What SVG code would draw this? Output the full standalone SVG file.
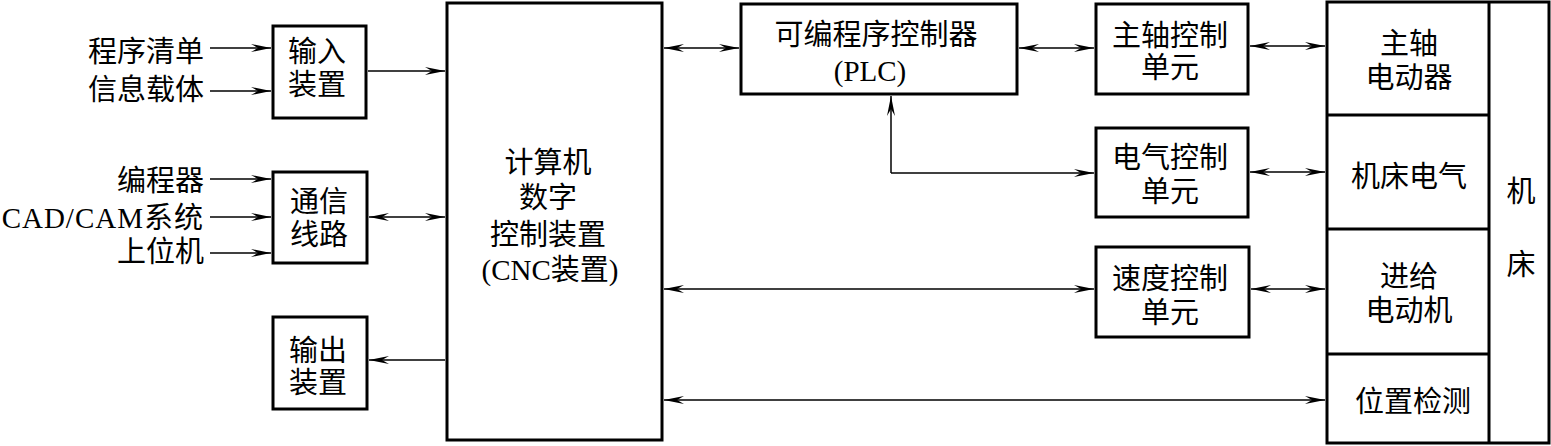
<svg xmlns="http://www.w3.org/2000/svg" width="1551" height="446" viewBox="0 0 1551 446">
<style>
.box{fill:#fff;stroke:#000;stroke-width:3}
.ln{fill:none;stroke:#000;stroke-width:1.5}
.t{font-family:"Liberation Serif","Noto Sans CJK SC",serif;font-size:29px;fill:#000;text-anchor:middle}
.r{text-anchor:end}
</style>
<defs>
<marker id="a" markerUnits="userSpaceOnUse" markerWidth="30" markerHeight="30" refX="0" refY="0" orient="auto-start-reverse" overflow="visible">
<path d="M0,0 L-20,-4 L-13,0 L-20,4 Z" fill="#000"/>
</marker>
</defs>
<rect width="1551" height="446" fill="#fff"/>
<g id="labels">
<text class="t r" x="204" y="62">程序清单</text>
<text class="t r" x="204" y="100">信息载体</text>
<text class="t r" x="204" y="191">编程器</text>
<text class="t r" x="204" y="228" letter-spacing="1">CAD/CAM系统</text>
<text class="t r" x="204" y="262">上位机</text>
</g>
<g id="input">
<rect class="box" x="273" y="26" width="93" height="92"/>
<text class="t" x="317" y="62">输入</text>
<text class="t" x="317" y="95">装置</text>
</g>
<g id="comm">
<rect class="box" x="273" y="172" width="94" height="91"/>
<text class="t" x="319" y="212">通信</text>
<text class="t" x="319" y="245">线路</text>
</g>
<g id="output">
<rect class="box" x="273" y="317" width="94" height="92"/>
<text class="t" x="318" y="361">输出</text>
<text class="t" x="318" y="393">装置</text>
</g>
<g id="cnc">
<rect class="box" x="447" y="3" width="215" height="437"/>
<text class="t" x="548" y="173">计算机</text>
<text class="t" x="548" y="208">数字</text>
<text class="t" x="548" y="245">控制装置</text>
<text class="t" x="550" y="280">(CNC装置)</text>
</g>
<g id="plc">
<rect class="box" x="741" y="4" width="276" height="90"/>
<text class="t" x="876" y="45">可编程序控制器</text>
<text class="t" x="870" y="81">(PLC)</text>
</g>
<g id="spindle-ctrl">
<rect class="box" x="1096" y="4" width="152" height="90"/>
<text class="t" x="1170" y="46">主轴控制</text>
<text class="t" x="1170" y="78">单元</text>
</g>
<g id="elec-ctrl">
<rect class="box" x="1096" y="128" width="152" height="89"/>
<text class="t" x="1170" y="168">电气控制</text>
<text class="t" x="1170" y="202">单元</text>
</g>
<g id="speed-ctrl">
<rect class="box" x="1096" y="247" width="153" height="90"/>
<text class="t" x="1170" y="289">速度控制</text>
<text class="t" x="1170" y="323">单元</text>
</g>
<g id="machine">
<rect class="box" x="1327" y="2" width="222" height="441"/>
<line class="box" x1="1489" y1="2" x2="1489" y2="443"/>
<line class="box" x1="1327" y1="115" x2="1489" y2="115"/>
<line class="box" x1="1327" y1="229" x2="1489" y2="229"/>
<line class="box" x1="1327" y1="354" x2="1489" y2="354"/>
<text class="t" x="1409" y="54">主轴</text>
<text class="t" x="1409" y="88">电动器</text>
<text class="t" x="1409" y="187">机床电气</text>
<text class="t" x="1409" y="287">进给</text>
<text class="t" x="1409" y="321">电动机</text>
<text class="t" x="1413" y="412">位置检测</text>
<text class="t" x="1521" y="202">机</text>
<text class="t" x="1521" y="275">床</text>
</g>
<g id="connectors">
<line class="ln" x1="210" y1="48" x2="271" y2="48" marker-end="url(#a)"/>
<line class="ln" x1="210" y1="91" x2="271" y2="91" marker-end="url(#a)"/>
<line class="ln" x1="210" y1="179" x2="271" y2="179" marker-end="url(#a)"/>
<line class="ln" x1="210" y1="217" x2="271" y2="217" marker-end="url(#a)"/>
<line class="ln" x1="210" y1="253" x2="271" y2="253" marker-end="url(#a)"/>
<line class="ln" x1="368" y1="71" x2="445" y2="71" marker-end="url(#a)"/>
<line class="ln" x1="369" y1="217" x2="445" y2="217" marker-start="url(#a)" marker-end="url(#a)"/>
<line class="ln" x1="445" y1="360" x2="369" y2="360" marker-end="url(#a)"/>
<line class="ln" x1="664" y1="48" x2="739" y2="48" marker-start="url(#a)" marker-end="url(#a)"/>
<line class="ln" x1="1019" y1="48" x2="1094" y2="48" marker-start="url(#a)" marker-end="url(#a)"/>
<line class="ln" x1="1250" y1="46" x2="1325" y2="46" marker-start="url(#a)" marker-end="url(#a)"/>
<path class="ln" d="M891,173 V96" marker-end="url(#a)"/>
<path class="ln" d="M891,173 H1094" marker-end="url(#a)"/>
<line class="ln" x1="1250" y1="172" x2="1325" y2="172" marker-start="url(#a)" marker-end="url(#a)"/>
<line class="ln" x1="664" y1="289" x2="1094" y2="289" marker-start="url(#a)" marker-end="url(#a)"/>
<line class="ln" x1="1251" y1="289" x2="1325" y2="289" marker-start="url(#a)" marker-end="url(#a)"/>
<line class="ln" x1="664" y1="400" x2="1325" y2="400" marker-start="url(#a)" marker-end="url(#a)"/>
</g>
</svg>
